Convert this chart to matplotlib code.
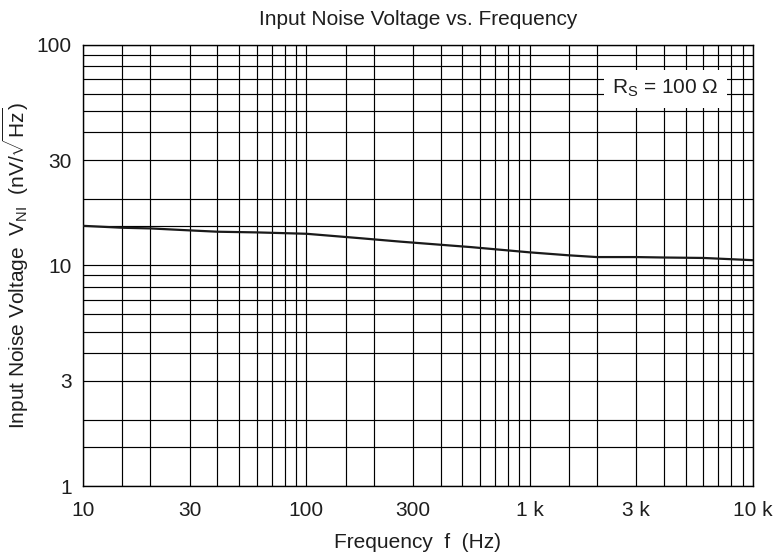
import matplotlib
matplotlib.use("Agg")
import matplotlib.pyplot as plt
from matplotlib.ticker import FixedLocator, NullFormatter, FixedFormatter

plt.rcParams['font.family'] = ['Liberation Sans', 'DejaVu Sans']
plt.rcParams['mathtext.fontset'] = 'custom'
plt.rcParams['mathtext.rm'] = 'Liberation Sans'
plt.rcParams['mathtext.it'] = 'Liberation Sans:italic'

# Data
freq_hz = [10, 15, 20, 30, 40, 60, 100, 130, 170, 265, 440, 543, 1000, 1500, 2000, 3000, 4000, 6000, 10000]
vni = [15.1, 14.8, 14.7, 14.4, 14.2, 14.1, 13.9, 13.6, 13.3, 12.8, 12.3, 12.1, 11.45, 11.1, 10.9, 10.9, 10.85, 10.8, 10.55]

x_ticks = [10, 30, 100, 300, 1000, 3000, 10000]
x_labels = ['10', '30', '100', '300', '1 k', '3 k', '10 k']
y_ticks = [1, 3, 10, 30, 100]
y_labels = ['1', '3', '10', '30', '100']
grid_mults = [1, 1.5, 2, 3, 4, 5, 6, 7, 8, 9]

FS = 15
TXT = '#1e1e1e'

fig = plt.figure(figsize=(7.77, 5.58), dpi=100)
ax = fig.add_axes([0.1068, 0.129, 0.8623, 0.791])
ax.set_xscale('log')
ax.set_yscale('log')
ax.set_xlim(10, 10000)
ax.set_ylim(1, 100)

xgrid = [m * d for d in (10, 100, 1000) for m in grid_mults] + [10000]
ygrid = [m * d for d in (1, 10) for m in grid_mults] + [100]
for v in xgrid:
    ax.axvline(v, color='black', lw=0.85, zorder=1)
for v in ygrid:
    ax.axhline(v, color='black', lw=0.85, zorder=1)

ax.plot(freq_hz, vni, color='#1a1a1a', lw=1.6, zorder=3)

ax.xaxis.set_major_locator(FixedLocator(x_ticks))
ax.xaxis.set_major_formatter(FixedFormatter(x_labels))
ax.xaxis.set_minor_locator(FixedLocator([]))
ax.xaxis.set_minor_formatter(NullFormatter())
ax.yaxis.set_major_locator(FixedLocator(y_ticks))
ax.yaxis.set_major_formatter(FixedFormatter(y_labels))
ax.yaxis.set_minor_locator(FixedLocator([]))
ax.yaxis.set_minor_formatter(NullFormatter())
ax.tick_params(axis='both', length=0, labelsize=FS, colors=TXT)
ax.tick_params(axis='x', pad=11)
ax.tick_params(axis='y', pad=8)
for s in ax.spines.values():
    s.set_color('black')
    s.set_linewidth(1.0)

ax.set_xlabel('Frequency  f  (Hz)', fontsize=FS, color=TXT, labelpad=9)
ax.set_ylabel(r'Input Noise Voltage  $\mathregular{V_{NI}}$  (nV/$\sqrt{\mathregular{Hz}}$)',
              fontsize=FS, color=TXT, labelpad=4)
ax.set_title('Input Noise Voltage vs. Frequency', fontsize=FS, color=TXT, pad=14)

ax.text(0.869, 0.900, r'$\mathregular{R_S}$ = 100 Ω', transform=ax.transAxes,
        ha='center', va='center', fontsize=FS, color=TXT, zorder=4,
        bbox=dict(facecolor='white', edgecolor='none', pad=6))

fig.savefig('out.png', dpi=100)
